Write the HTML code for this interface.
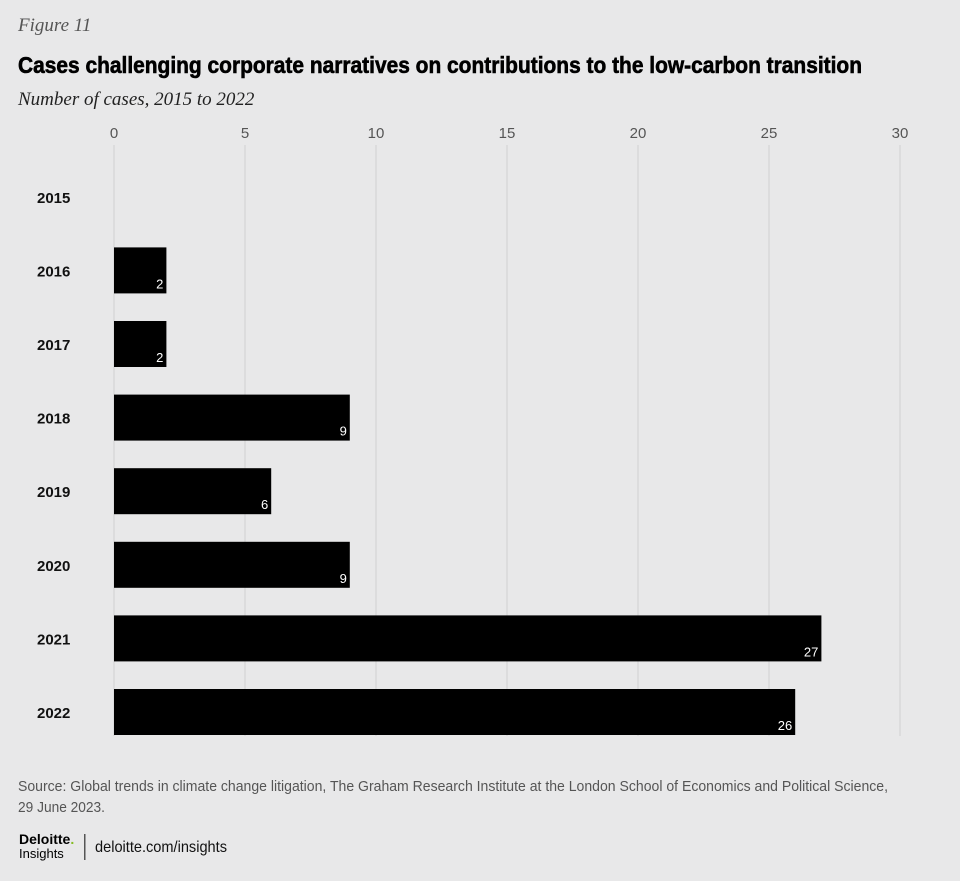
<!DOCTYPE html>
<html><head><meta charset="utf-8"><style>
html,body{margin:0;padding:0;background:#e8e8e9;}
svg{display:block;}
</style></head><body>
<svg width="960" height="881" viewBox="0 0 960 881" xmlns="http://www.w3.org/2000/svg">
<rect x="0" y="0" width="960" height="881" fill="#e8e8e9"/>
<text x="18" y="31" font-family="Liberation Serif, serif" font-style="italic" font-size="19" fill="#555">Figure 11</text>
<text x="18" y="73" font-family="Liberation Sans, sans-serif" font-weight="bold" font-size="23" fill="#000" stroke="#000" stroke-width="0.6" textLength="844" lengthAdjust="spacingAndGlyphs">Cases challenging corporate narratives on contributions to the low-carbon transition</text>
<text x="18" y="105" font-family="Liberation Serif, serif" font-style="italic" font-size="19" fill="#222">Number of cases, 2015 to 2022</text>
<g id="grid"></g>
<g id="ticks"></g>
<g id="bars"></g>
<text x="18" y="791" font-family="Liberation Sans, sans-serif" font-size="15" fill="#555" textLength="870" lengthAdjust="spacingAndGlyphs">Source: Global trends in climate change litigation, The Graham Research Institute at the London School of Economics and Political Science,</text>
<text x="18" y="812" font-family="Liberation Sans, sans-serif" font-size="15" fill="#555" textLength="87" lengthAdjust="spacingAndGlyphs">29 June 2023.</text>
<text x="19" y="844" font-family="Liberation Sans, sans-serif" font-weight="bold" font-size="14" fill="#000">Deloitte<tspan fill="#86bc25">.</tspan></text>
<text x="19" y="858" font-family="Liberation Sans, sans-serif" font-size="13" fill="#000">Insights</text>
<rect x="84" y="834" width="1.5" height="26" fill="#555"/>
<text x="95" y="852" font-family="Liberation Sans, sans-serif" font-size="16" fill="#111" textLength="132" lengthAdjust="spacingAndGlyphs">deloitte.com/insights</text>
</svg>
<script>
const categories=["2015","2016","2017","2018","2019","2020","2021","2022"];
const values=[0,2,2,9,6,9,27,26];
const tickValues=[0,5,10,15,20,25,30];
const tickLabels=["0","5","10","15","20","25","30"];
const NS="http://www.w3.org/2000/svg";
const x0=114,x1=900,vmax=30;
function xs(v){return x0+(x1-x0)*v/vmax;}
const yTop=160,step=73.6,barH=46;
function yc(i){return yTop+step*i+step/2;}
const grid=document.getElementById('grid'),ticks=document.getElementById('ticks'),bars=document.getElementById('bars');
function mk(tag,attrs,parent){const e=document.createElementNS(NS,tag);for(const k in attrs)e.setAttribute(k,attrs[k]);parent.appendChild(e);return e;}
tickValues.forEach((t,i)=>{
  const l=mk('line',{x1:xs(t),x2:xs(t),y1:145,y2:736,stroke:'#cfcfd1','stroke-width':1},grid);
  
  
  const tx=mk('text',{x:xs(t),y:138,'text-anchor':'middle','font-family':'Liberation Sans, sans-serif','font-size':15,fill:'#555'},ticks);
  tx.textContent=tickLabels[i];
  
  
});
categories.forEach((c,i)=>{
  const cy=yc(i);
  const lab=mk('text',{x:37,y:cy+6,'font-family':'Liberation Sans, sans-serif','font-weight':'bold','font-size':15,fill:'#111'},bars);
  lab.textContent=c;
  
  
  if(values[i]>0){
    const r=mk('rect',{x:x0,y:cy-barH/2,width:xs(values[i])-x0,height:barH,fill:'#000'},bars);
    
    
    const v=mk('text',{x:xs(values[i])-3,y:cy+barH/2-5,'text-anchor':'end','font-family':'Liberation Sans, sans-serif','font-size':13,fill:'#fff'},bars);
    v.textContent=values[i];
    
    
  }
});
</script>
</body></html>
